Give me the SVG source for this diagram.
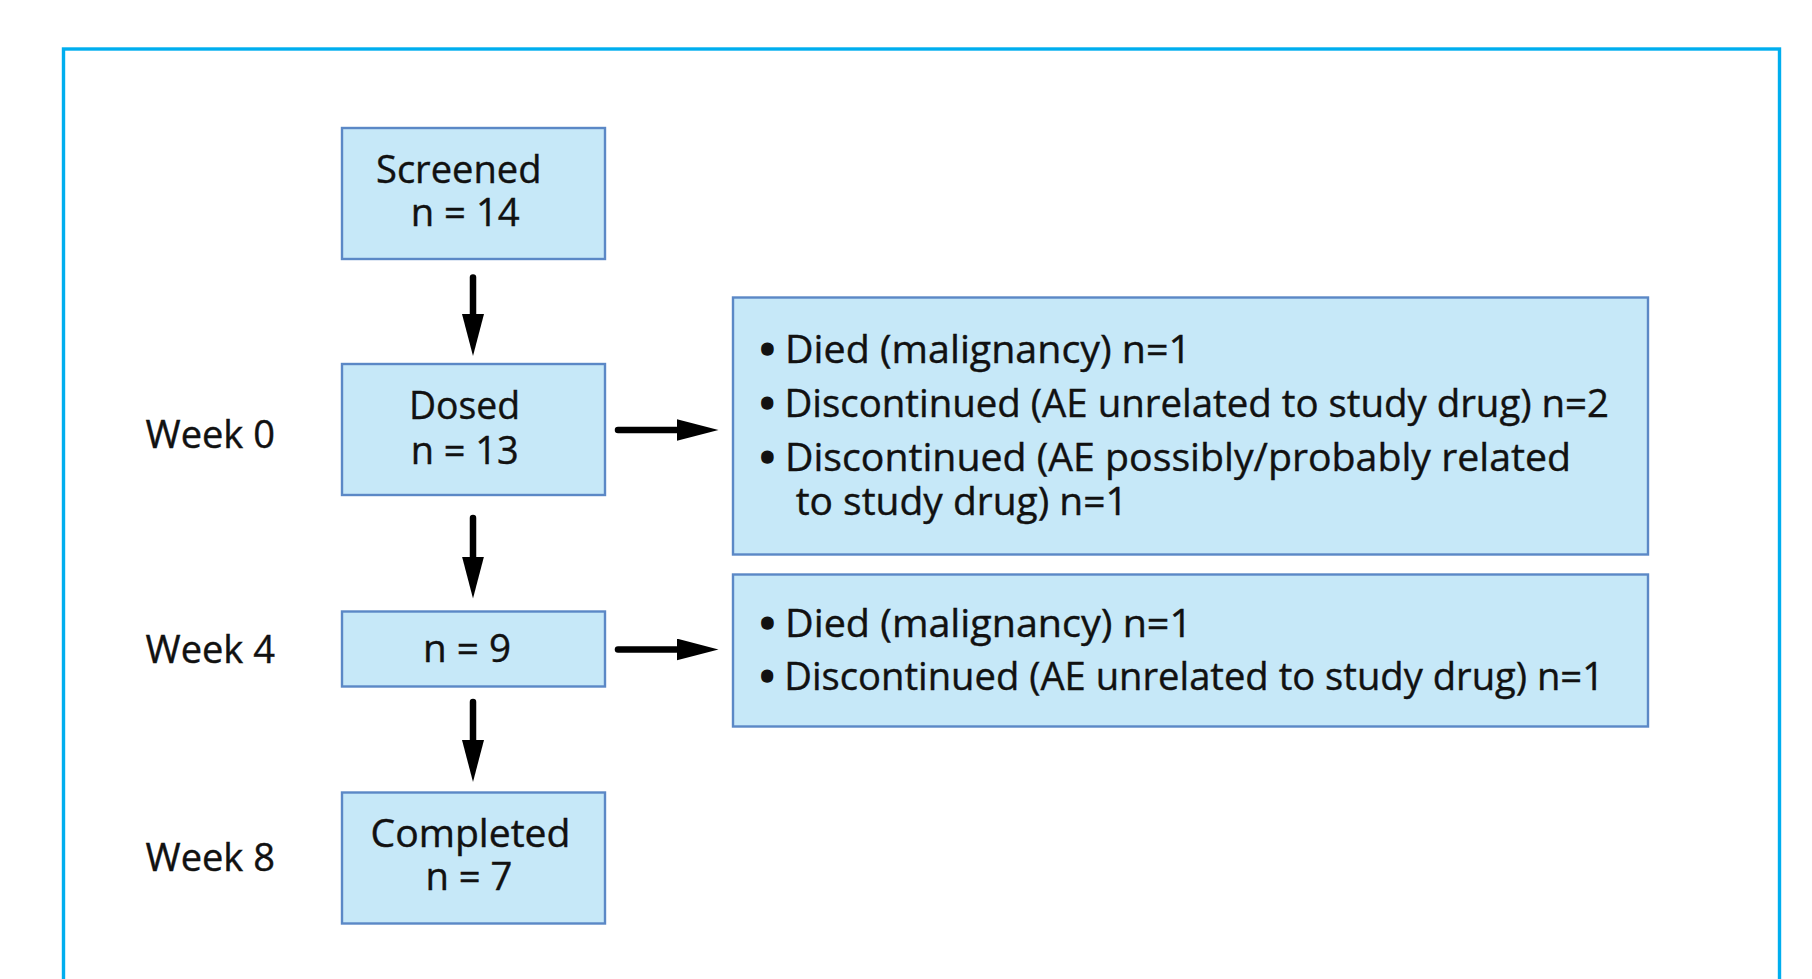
<svg xmlns="http://www.w3.org/2000/svg" width="1812" height="979" viewBox="0 0 1812 979">
  <style>
    .box { fill: #c6e8f8; stroke: #5b88c6; stroke-width: 2.4; }
    .t { font-family: "Open Sans", "Noto Sans", "Liberation Sans", sans-serif; font-size: 38px; fill: #111; stroke: #111; stroke-width: 0.4px; }
    .b { font-weight: 700; stroke-width: 1.5px; }
    .conn { stroke: #000; stroke-width: 6.5; stroke-linecap: round; fill: none; }
  </style>
  <defs>
    <marker id="ah" markerUnits="userSpaceOnUse" viewBox="0 0 42 22" markerWidth="42" markerHeight="22" refX="0" refY="11" orient="auto">
      <path d="M0,0 L42,11 L0,22 z" fill="#000"/>
    </marker>
  </defs>
  <rect x="0" y="0" width="1812" height="979" fill="#fff"/>
  <rect id="frame" x="63.5" y="49" width="1716" height="1000" fill="none" stroke="#00aeef" stroke-width="3.4"/>

  <g id="week-labels">
    <text class="t" x="145.5" y="447.5" textLength="129.5" lengthAdjust="spacingAndGlyphs">Week 0</text>
    <text class="t" x="145.5" y="662.5" textLength="129.5" lengthAdjust="spacingAndGlyphs">Week 4</text>
    <text class="t" x="145.5" y="870.5" textLength="129.5" lengthAdjust="spacingAndGlyphs">Week 8</text>
  </g>

  <g id="screened">
    <rect class="box" x="342" y="128" width="263" height="131"/>
    <text class="t" x="376" y="183" textLength="165.5" lengthAdjust="spacingAndGlyphs">Screened</text>
    <text class="t" x="410.7" y="225.7" textLength="109" lengthAdjust="spacingAndGlyphs">n = 14</text>
  </g>

  <g id="dosed">
    <rect class="box" x="342" y="364" width="263" height="131"/>
    <text class="t" x="409" y="418.6" textLength="111" lengthAdjust="spacingAndGlyphs">Dosed</text>
    <text class="t" x="410.7" y="464.3" textLength="108" lengthAdjust="spacingAndGlyphs">n = 13</text>
  </g>

  <g id="week4">
    <rect class="box" x="342" y="611.5" width="263" height="75"/>
    <text class="t" x="423" y="662" textLength="88" lengthAdjust="spacingAndGlyphs">n = 9</text>
  </g>

  <g id="completed">
    <rect class="box" x="342" y="792.5" width="263" height="131"/>
    <text class="t" x="370.5" y="847.3" textLength="200" lengthAdjust="spacingAndGlyphs">Completed</text>
    <text class="t" x="425.4" y="890" textLength="87" lengthAdjust="spacingAndGlyphs">n = 7</text>
  </g>

  <g id="dropouts-week0">
    <rect class="box" x="733" y="297.5" width="915" height="257"/>
    <text class="t" x="760" y="362.7" textLength="431" lengthAdjust="spacingAndGlyphs"><tspan class="b">•</tspan> Died (malignancy) n=1</text>
    <text class="t" x="760" y="416.7" textLength="849" lengthAdjust="spacingAndGlyphs"><tspan class="b">•</tspan> Discontinued (AE unrelated to study drug) n=2</text>
    <text class="t" x="760" y="470.7" textLength="811" lengthAdjust="spacingAndGlyphs"><tspan class="b">•</tspan> Discontinued (AE possibly/probably related</text>
    <text class="t" x="795.7" y="515" textLength="332" lengthAdjust="spacingAndGlyphs">to study drug) n=1</text>
  </g>

  <g id="dropouts-week4">
    <rect class="box" x="733" y="574.5" width="915" height="152"/>
    <text class="t" x="760" y="637.3" textLength="432" lengthAdjust="spacingAndGlyphs"><tspan class="b">•</tspan> Died (malignancy) n=1</text>
    <text class="t" x="760" y="690" textLength="844" lengthAdjust="spacingAndGlyphs"><tspan class="b">•</tspan> Discontinued (AE unrelated to study drug) n=1</text>
  </g>

  <g id="connectors">
    <line class="conn" x1="473" y1="277.5" x2="473" y2="314" marker-end="url(#ah)"/>
    <line class="conn" x1="473" y1="518" x2="473" y2="556.5" marker-end="url(#ah)"/>
    <line class="conn" x1="473" y1="702" x2="473" y2="740" marker-end="url(#ah)"/>
    <line class="conn" x1="618" y1="430" x2="676.5" y2="430" marker-end="url(#ah)"/>
    <line class="conn" x1="618" y1="649.5" x2="676.5" y2="649.5" marker-end="url(#ah)"/>
  </g>
</svg>
